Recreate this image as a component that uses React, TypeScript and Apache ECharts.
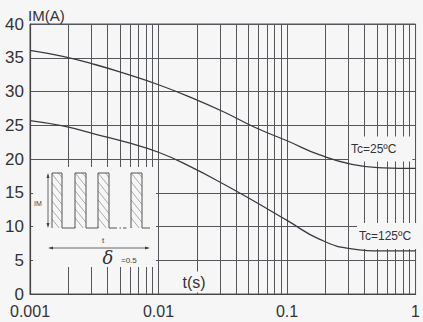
import React, { useEffect, useRef } from 'react';
import * as echarts from 'echarts';

// ---- data ----
const tValues = [0.001, 0.0018, 0.0032, 0.0056, 0.01, 0.018, 0.032, 0.056, 0.1, 0.18, 0.32, 0.56, 1];
const tc25 = [36.1, 35.2, 34.0, 32.6, 31.0, 29.1, 27.0, 24.7, 22.7, 20.6, 19.2, 18.7, 18.6];
const tc125 = [25.7, 24.9, 23.7, 22.5, 21.0, 18.8, 16.3, 13.7, 10.9, 8.1, 6.7, 6.4, 6.4];
const xTickLabels = ['0.001', '0.01', '0.1', '1'];
const decades = [0.001, 0.01, 0.1];
const minorMultipliers = [2, 3, 4, 5, 6, 7, 8, 9];
const seriesNames = ['Tc=25ºC', 'Tc=125ºC'];

const BG = '#f6f6f7';
const GRID = '#55555c';
const INK = '#333';
const FONT = '"Liberation Sans", Arial, Helvetica, sans-serif';

function hatch(x0: number, y0: number, x1: number, y1: number, step: number, s: number) {
  const out: any[] = [];
  const w = x1 - x0;
  for (let c = y0 - s * w + step / 2; c < y1; c += step) {
    const xa = Math.max(x0, x0 + (y0 - c) / s);
    const xb = Math.min(x1, x0 + (y1 - c) / s);
    if (xb - xa > 0.5) {
      out.push({
        type: 'line',
        silent: true,
        z: 102,
        shape: { x1: xa, y1: c + s * (xa - x0), x2: xb, y2: c + s * (xb - x0) },
        style: { stroke: '#777', lineWidth: 0.6 },
      });
    }
  }
  return out;
}

export default function App() {
  const ref = useRef<HTMLDivElement>(null);
  useEffect(() => {
    document.body.style.margin = '0';
    const chart = echarts.init(ref.current!, null, { renderer: 'svg' });

    const minorLines: number[] = [];
    decades.forEach((d) => minorMultipliers.forEach((m) => minorLines.push(+(d * m).toPrecision(6))));

    const hiY = 173;
    const loY = 228;
    const pulses: [number, number][] = [[52, 62], [75, 86], [98, 109], [131, 142]];
    const wave = {
      type: 'polyline',
      silent: true,
      z: 103,
      shape: {
        points: [
          [52, loY], [52, hiY], [62, hiY], [62, loY], [75, loY], [75, hiY], [86, hiY], [86, loY],
          [98, loY], [98, hiY], [109, hiY], [109, loY], [117, loY],
        ],
      },
      style: { stroke: '#555', lineWidth: 1, fill: null },
    };
    const wave2 = {
      type: 'polyline',
      silent: true,
      z: 103,
      shape: { points: [[131, loY], [131, hiY], [142, hiY], [142, loY], [150, loY]] },
      style: { stroke: '#555', lineWidth: 1, fill: null },
    };
    const dashes = [[119.5, 121], [123, 126.5]].map(([a, b]) => ({
      type: 'line', silent: true, z: 103,
      shape: { x1: a, y1: loY, x2: b, y2: loY },
      style: { stroke: '#555', lineWidth: 1 },
    }));
    const hatches: any[] = [];
    pulses.forEach(([a, b]) => hatches.push(...hatch(a, hiY, b, loY, 9, 1.25)));

    const arrowStyle = { fill: '#444', stroke: null };
    const graphics: any[] = [
      { type: 'rect', silent: true, z: 100, shape: { x: 33, y: 167, width: 123, height: 100 }, style: { fill: BG } },
      ...hatches,
      wave, wave2, ...dashes,
      // IM arrow
      { type: 'line', silent: true, z: 103, shape: { x1: 48, y1: hiY + 2, x2: 48, y2: loY - 2 }, style: { stroke: '#444', lineWidth: 0.8 } },
      { type: 'polygon', silent: true, z: 103, shape: { points: [[48, hiY], [46.5, hiY + 5], [49.5, hiY + 5]] }, style: arrowStyle },
      { type: 'polygon', silent: true, z: 103, shape: { points: [[48, loY], [46.5, loY - 5], [49.5, loY - 5]] }, style: arrowStyle },
      // t arrow
      { type: 'line', silent: true, z: 103, shape: { x1: 50, y1: 248, x2: 148, y2: 248 }, style: { stroke: '#444', lineWidth: 0.8 } },
      { type: 'polygon', silent: true, z: 103, shape: { points: [[48, 248], [53, 246.5], [53, 249.5]] }, style: arrowStyle },
      { type: 'polygon', silent: true, z: 103, shape: { points: [[150, 248], [145, 246.5], [145, 249.5]] }, style: arrowStyle },
      { type: 'text', silent: true, z: 104, x: 38, y: 203, style: { text: 'IM', fontSize: 7, fontFamily: FONT, fill: '#444', align: 'center', verticalAlign: 'middle' } },
      { type: 'text', silent: true, z: 104, x: 103, y: 240, style: { text: 't', fontSize: 8, fontFamily: FONT, fill: '#444', align: 'center', verticalAlign: 'middle' } },
      { type: 'text', silent: true, z: 104, x: 108, y: 257, style: { text: 'δ', fontSize: 18, fontStyle: 'italic', fontFamily: '"DejaVu Serif", serif', fill: '#333', align: 'center', verticalAlign: 'middle' } },
      { type: 'text', silent: true, z: 104, x: 121, y: 260, style: { text: '=0.5', fontSize: 8, fontFamily: FONT, fill: '#444', align: 'left', verticalAlign: 'middle' } },
      // labels
      { type: 'text', silent: true, z: 104, x: 28, y: 15, style: { text: 'IM(A)', fontSize: 15, fontFamily: FONT, fill: INK, align: 'left', verticalAlign: 'middle' } },
      { type: 'text', silent: true, z: 104, x: 194, y: 282, style: { text: 't(s)', fontSize: 16, fontFamily: FONT, fill: INK, align: 'center', verticalAlign: 'middle', backgroundColor: BG, padding: [3, 2, 2, 2] } },
      { type: 'text', silent: true, z: 104, x: 349, y: 149, style: { text: seriesNames[0], fontSize: 12, fontFamily: FONT, fill: INK, align: 'left', verticalAlign: 'middle', backgroundColor: BG, padding: [7, 16, 6, 2] } },
      { type: 'text', silent: true, z: 104, x: 357, y: 236, style: { text: seriesNames[1], fontSize: 12, fontFamily: FONT, fill: INK, align: 'left', verticalAlign: 'middle', backgroundColor: BG, padding: [8, 6, 6, 2] } },
    ];

    const option: any = {
      animation: false,
      backgroundColor: BG,
      grid: { left: 30, right: 4, top: 24, bottom: 28, show: true, borderColor: GRID, borderWidth: 1 },
      xAxis: {
        type: 'log',
        logBase: 10,
        min: 0.001,
        max: 1,
        axisLine: { show: true, lineStyle: { color: '#444', width: 1.2 } },
        axisTick: { show: false },
        splitLine: { show: true, lineStyle: { color: GRID, width: 1 } },
        axisLabel: {
          fontSize: 16,
          fontFamily: FONT,
          color: INK,
          margin: 9,
          formatter: (v: number) => xTickLabels.find((l) => Math.abs(parseFloat(l) - v) < 1e-9 * Math.max(1, v) + 1e-12) ?? '',
        },
      },
      yAxis: {
        type: 'value',
        min: 0,
        max: 40,
        interval: 5,
        axisLine: { show: true, lineStyle: { color: '#444', width: 1.2 } },
        axisTick: { show: false },
        splitLine: { show: true, lineStyle: { color: GRID, width: 1 } },
        axisLabel: { fontSize: 17, fontFamily: FONT, color: INK, margin: 6 },
      },
      series: [
        {
          name: seriesNames[0],
          type: 'line',
          smooth: 0.5,
          symbol: 'none',
          data: tValues.map((t, i) => [t, tc25[i]]),
          lineStyle: { color: '#3a3a3e', width: 1.3 },
          z: 5,
          markLine: {
            silent: true,
            symbol: 'none',
            precision: 8,
            label: { show: false },
            lineStyle: { color: GRID, width: 1, type: 'solid' },
            data: minorLines.map((v) => ({ xAxis: v })),
          },
        },
        {
          name: seriesNames[1],
          type: 'line',
          smooth: 0.5,
          symbol: 'none',
          data: tValues.map((t, i) => [t, tc125[i]]),
          lineStyle: { color: '#3a3a3e', width: 1.3 },
          z: 5,
        },
      ],
      graphic: graphics,
    };
    chart.setOption(option);
    return () => chart.dispose();
  }, []);
  return <div ref={ref} style={{ width: 423, height: 322 }} />;
}
